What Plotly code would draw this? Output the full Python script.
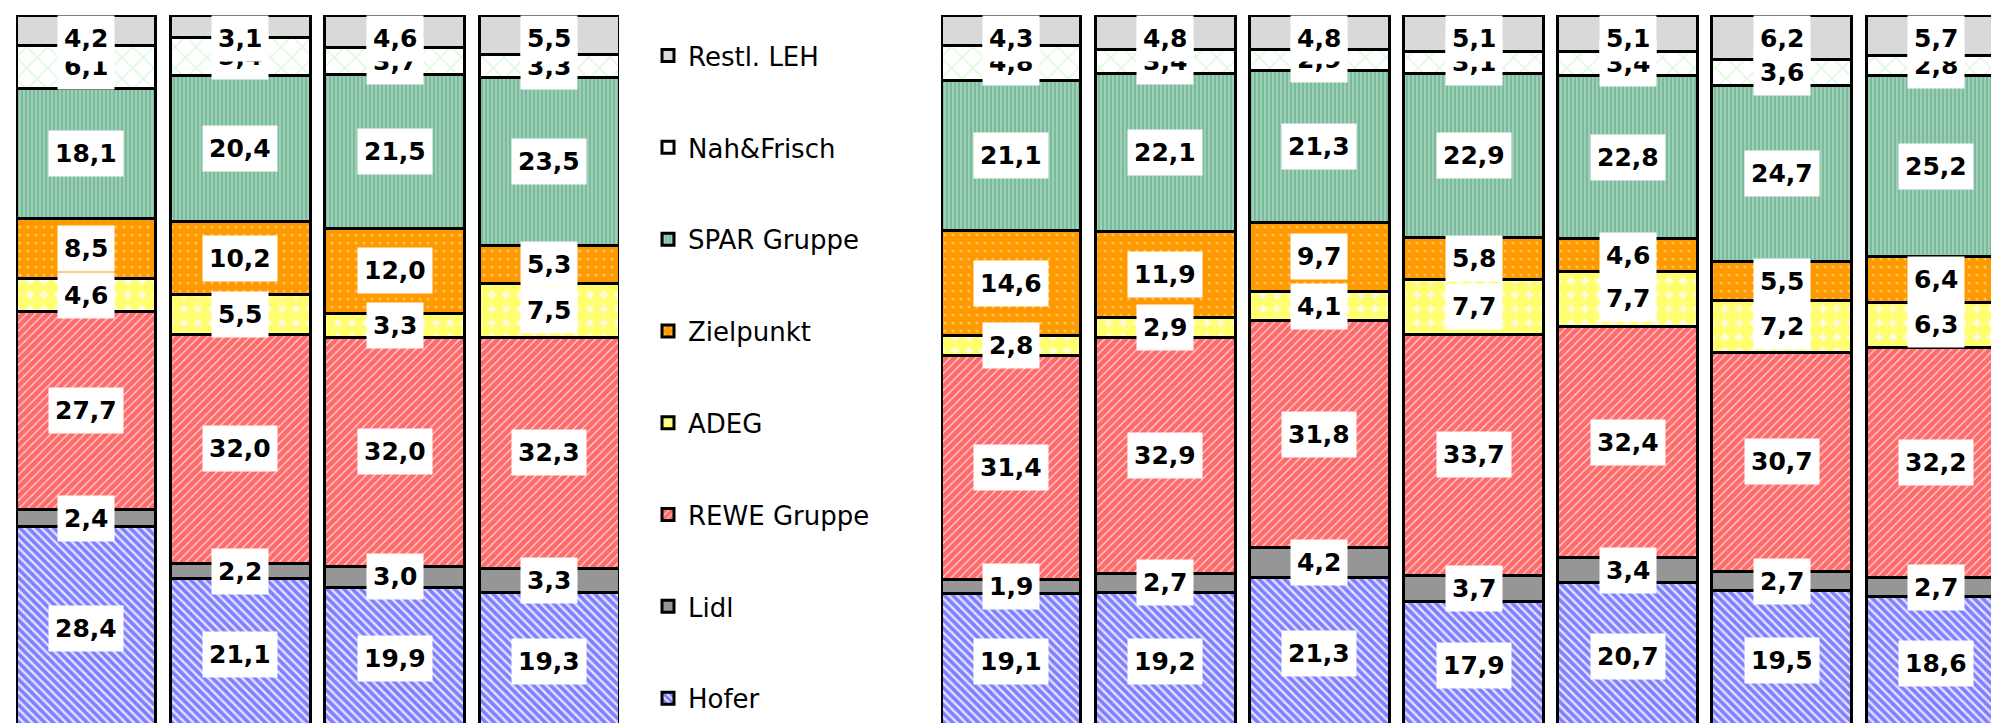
import plotly.graph_objects as go

# ---- data ----
series = ["Hofer", "Lidl", "REWE Gruppe", "ADEG", "Zielpunkt", "SPAR Gruppe", "Nah&Frisch", "Restl. LEH"]
left_cats = ["L1", "L2", "L3", "L4"]
right_cats = ["R1", "R2", "R3", "R4", "R5", "R6", "R7"]

left_vals = {
    "Hofer":       [28.4, 21.1, 19.9, 19.3],
    "Lidl":        [2.4, 2.2, 3.0, 3.3],
    "REWE Gruppe": [27.7, 32.0, 32.0, 32.3],
    "ADEG":        [4.6, 5.5, 3.3, 7.5],
    "Zielpunkt":   [8.5, 10.2, 12.0, 5.3],
    "SPAR Gruppe": [18.1, 20.4, 21.5, 23.5],
    "Nah&Frisch":  [6.1, 5.4, 3.7, 3.3],
    "Restl. LEH":  [4.2, 3.1, 4.6, 5.5],
}
right_vals = {
    "Hofer":       [19.1, 19.2, 21.3, 17.9, 20.7, 19.5, 18.6],
    "Lidl":        [1.9, 2.7, 4.2, 3.7, 3.4, 2.7, 2.7],
    "REWE Gruppe": [31.4, 32.9, 31.8, 33.7, 32.4, 30.7, 32.2],
    "ADEG":        [2.8, 2.9, 4.1, 7.7, 7.7, 7.2, 6.3],
    "Zielpunkt":   [14.6, 11.9, 9.7, 5.8, 4.6, 5.5, 6.4],
    "SPAR Gruppe": [21.1, 22.1, 21.3, 22.9, 22.8, 24.7, 25.2],
    "Nah&Frisch":  [4.8, 3.4, 2.9, 3.1, 3.4, 3.6, 2.8],
    "Restl. LEH":  [4.3, 4.8, 4.8, 5.1, 5.1, 6.2, 5.7],
}

# ---- styles ----
styles = {
    "Hofer":       dict(color="#e2e2ff", pattern=dict(shape="\\", fgcolor="#1a1aff", bgcolor="#e2e2ff", size=6, solidity=0.6)),
    "Lidl":        dict(color="#969696"),
    "REWE Gruppe": dict(color="#ffd6d6", pattern=dict(shape="/", fgcolor="#ff0000", bgcolor="#ffd6d6", size=6, solidity=0.8)),
    "ADEG":        dict(color="#fffbe0", pattern=dict(shape=".", fgcolor="#ffff00", bgcolor="#fffbe0", size=14, solidity=0.8)),
    "Zielpunkt":   dict(color="#ff9900", pattern=dict(shape=".", fgcolor="#ffe8c0", bgcolor="#ff9900", size=8, solidity=0.12)),
    "SPAR Gruppe": dict(color="#d4ede0", pattern=dict(shape="|", fgcolor="#1f8a55", bgcolor="#d4ede0", size=4, solidity=0.8)),
    "Nah&Frisch":  dict(color="white", pattern=dict(shape="x", fgcolor="#c4f2c4", bgcolor="white", size=15, solidity=0.22)),
    "Restl. LEH":  dict(color="#d9d9d9"),
}
legend_rank = {s: len(series) - i for i, s in enumerate(series)}

FONT = "DejaVu Sans, Verdana, sans-serif"
fig = go.Figure()

for s in series:
    st = styles[s]
    for cats, vals, xa, show in ((left_cats, left_vals, "x", True), (right_cats, right_vals, "x2", False)):
        fig.add_trace(go.Bar(
            x=cats, y=vals[s], name=s, xaxis=xa, yaxis="y",
            legendgroup=s, showlegend=show, legendrank=legend_rank[s],
            marker=dict(color=st["color"], pattern=st.get("pattern"),
                        line=dict(color="black", width=3)),
            hoverinfo="name+y",
        ))

# ---- labels ----
half_box = 3.3  # data units (approx half label-box height)
annotations = []
for cats, vals, xa in ((left_cats, left_vals, "x"), (right_cats, right_vals, "x2")):
    for i, c in enumerate(cats):
        total = sum(vals[s][i] for s in series)
        cum = 0.0
        for s in series:
            v = vals[s][i]
            mid = (cum + v / 2) / total * 100
            cum += v
            if mid + half_box > 100:
                y, ya = 100, "top"
            else:
                y, ya = mid, "middle"
            annotations.append(dict(
                x=c, y=y, xref=xa, yref="y", yanchor=ya,
                text=f"{v:.1f}".replace(".", ","), showarrow=False,
                font=dict(family=FONT, size=25, color="black", weight="bold"),
                bgcolor="white", borderpad=6, height=33,
            ))

fig.update_layout(
    width=1999, height=723,
    margin=dict(l=0, r=0, t=7, b=1),
    barmode="stack", barnorm="percent", bargap=0.093,
    paper_bgcolor="white", plot_bgcolor="white",
    xaxis=dict(domain=[8/1999, 611/1999], range=[-0.5 + 0.0465, 3.5 - 0.0465],
               visible=False, fixedrange=True),
    xaxis2=dict(domain=[933/1999, 1998/1999], range=[-0.5 + 0.0465, 6.5 - 0.0465],
                visible=False, fixedrange=True),
    yaxis=dict(range=[0, 100], visible=False, fixedrange=True),
    showlegend=True,
    legend=dict(x=640/1999, xanchor="left", y=0.976, yanchor="top",
                traceorder="grouped", tracegroupgap=55,
                font=dict(family=FONT, size=26, color="black"),
                bgcolor="rgba(0,0,0,0)"),
    annotations=annotations,
    font=dict(family=FONT),
)

fig.write_html("out.html")
